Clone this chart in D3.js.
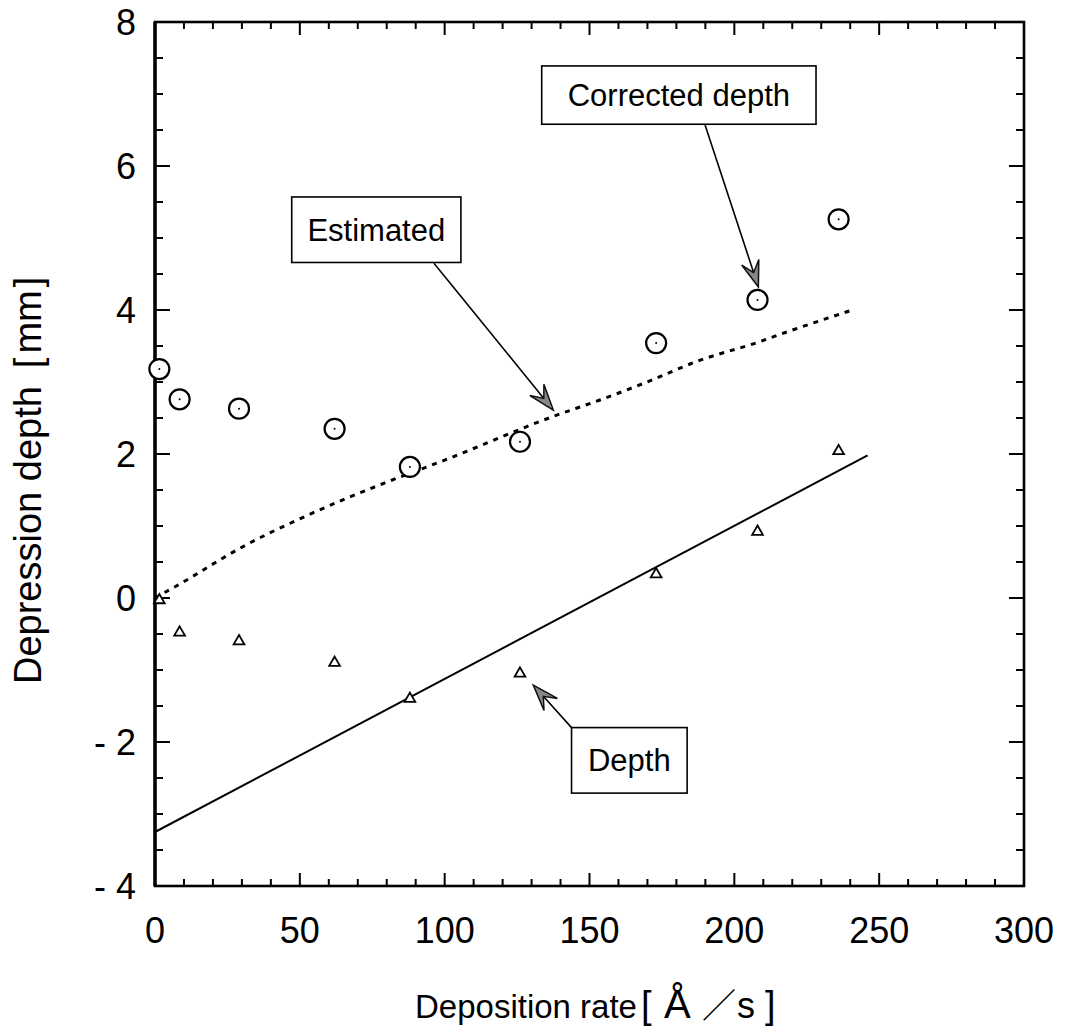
<!DOCTYPE html>
<html><head><meta charset="utf-8">
<script src="https://cdn.jsdelivr.net/npm/d3@7"></script>
<style>body{margin:0;background:#fff}</style>
</head><body>
<svg id="c" width="1066" height="1032"></svg>
<script>
// ---- data ----
const rates = [1.5, 8.5, 29, 62, 88, 126, 173, 208, 236];
const correctedDepth = [3.18, 2.76, 2.63, 2.35, 1.82, 2.17, 3.54, 4.14, 5.26];
const depth = [-0.03, -0.48, -0.60, -0.90, -1.40, -1.05, 0.33, 0.92, 2.04];
const fitX = [0, 246];
const fitY = [-3.25, 1.98];
const estX = [0, 3.5, 8.4, 15.5, 22.4, 29.3, 50, 79.4, 98.4, 138.7, 153.6, 168.6, 188, 208.8, 215.7, 241.5];
const estY = [0, 0.08, 0.19, 0.36, 0.53, 0.69, 1.1, 1.6, 1.89, 2.54, 2.75, 2.98, 3.3, 3.56, 3.66, 4.01];
const xTickLabels = [0, 50, 100, 150, 200, 250, 300];
const yTickLabels = [8, 6, 4, 2, 0, -2, -4];
const annLabels = ["Estimated", "Corrected depth", "Depth"];
const annBoxX = [[47.2, 105.6], [133.5, 228.2], [143.8, 183.7]];
const annBoxY = [[5.57, 4.66], [7.39, 6.58], [-1.80, -2.71]];
const annFrom = [[96.3, 4.65], [189.9, 6.57], [143.8, -1.80]];
const annTo = [[137.5, 2.61], [208.3, 4.32], [130.6, -1.21]];

const svg = d3.select("#c");
const x = d3.scaleLinear([0, 300], [155, 1024]);
const y = d3.scaleLinear([-4, 8], [886, 22]);
const font = "'Liberation Sans', Arial, Helvetica, sans-serif";

// ticks
const xMinor = d3.range(0, 301, 10);
const yMinor = d3.range(-4, 8.01, 0.5);
const isXMaj = v => Math.abs(v % 50) < 1e-6;
const isYMaj = v => Math.abs(v % 2) < 1e-6;
const tk = svg.append("g").attr("stroke", "#000").attr("stroke-width", 2);
xMinor.forEach(v => {
  const L = isXMaj(v) ? 13 : 7;
  tk.append("line").attr("x1", x(v)).attr("x2", x(v)).attr("y1", y(-4)).attr("y2", y(-4) - L);
  tk.append("line").attr("x1", x(v)).attr("x2", x(v)).attr("y1", y(8)).attr("y2", y(8) + L);
});
yMinor.forEach(v => {
  const L = isYMaj(v) ? 15 : 8;
  tk.append("line").attr("y1", y(v)).attr("y2", y(v)).attr("x1", x(0)).attr("x2", x(0) + L);
  tk.append("line").attr("y1", y(v)).attr("y2", y(v)).attr("x1", x(300)).attr("x2", x(300) - L);
});
// frame
svg.append("rect").attr("x", x(0)).attr("y", y(8)).attr("width", x(300) - x(0)).attr("height", y(-4) - y(8))
  .attr("fill", "none").attr("stroke", "#000").attr("stroke-width", 2.6);
svg.append("line").attr("x1", x(0)).attr("x2", x(0)).attr("y1", y(8)).attr("y2", y(-4))
  .attr("stroke", "#000").attr("stroke-width", 3.4);

// tick labels
svg.append("g").selectAll("text").data(xTickLabels).join("text")
  .attr("x", d => x(d)).attr("y", 943).attr("text-anchor", "middle")
  .attr("font-family", font).attr("font-size", 36).text(d => d);
svg.append("g").selectAll("text").data(yTickLabels).join("text")
  .attr("x", 136).attr("y", d => y(d) + 13).attr("text-anchor", "end")
  .attr("font-family", font).attr("font-size", 36).text(d => d < 0 ? "- " + Math.abs(d) : d);

// axis titles
const xt = svg.append("text").attr("y", 1018).attr("font-family", font).attr("font-size", 33);
xt.append("tspan").attr("x", 415).text("Deposition rate");
xt.append("tspan").attr("x", 641).attr("font-size", 38).text("[");
xt.append("tspan").attr("x", 664).attr("font-size", 40).text("Å");
xt.append("tspan").attr("x", 702).attr("font-family", "'Noto Sans CJK JP'").attr("font-size", 34).text("／");
xt.append("tspan").attr("x", 737).attr("font-size", 36).text("s");
xt.append("tspan").attr("x", 765).attr("font-size", 38).text("]");

const yt = svg.append("text").attr("transform", "translate(41,684) rotate(-90)")
  .attr("font-family", font).attr("font-size", 38);
yt.append("tspan").text("Depression depth");
yt.append("tspan").attr("dx", 18).text("[");
yt.append("tspan").attr("dx", 4).text("mm");
yt.append("tspan").attr("dx", 3).text("]");

// lines
svg.append("path").datum(d3.zip(fitX, fitY))
  .attr("d", d3.line().x(d => x(d[0])).y(d => y(d[1])))
  .attr("fill", "none").attr("stroke", "#000").attr("stroke-width", 2);
svg.append("path").datum(d3.zip(estX, estY))
  .attr("d", d3.line().curve(d3.curveMonotoneX).x(d => x(d[0])).y(d => y(d[1])))
  .attr("fill", "none").attr("stroke", "#000").attr("stroke-width", 3).attr("stroke-dasharray", "5 6");

// markers
const pts = d3.zip(rates, correctedDepth);
svg.append("g").selectAll("circle").data(pts).join("circle")
  .attr("cx", d => x(d[0])).attr("cy", d => y(d[1])).attr("r", 10)
  .attr("fill", "#fff").attr("stroke", "#000").attr("stroke-width", 2.2);
svg.append("g").selectAll("circle").data(pts).join("circle")
  .attr("cx", d => x(d[0])).attr("cy", d => y(d[1])).attr("r", 1).attr("fill", "#000");
svg.append("g").selectAll("path").data(d3.zip(rates, depth)).join("path")
  .attr("transform", d => `translate(${x(d[0])},${y(d[1])})`)
  .attr("d", d3.symbol(d3.symbolTriangle, 50))
  .attr("fill", "#fff").attr("stroke", "#000").attr("stroke-width", 1.8);

// annotations
annLabels.forEach((lab, i) => {
  const bx0 = x(annBoxX[i][0]), bx1 = x(annBoxX[i][1]);
  const by0 = y(annBoxY[i][0]), by1 = y(annBoxY[i][1]);
  svg.append("rect").attr("x", bx0).attr("y", by0).attr("width", bx1 - bx0).attr("height", by1 - by0)
    .attr("fill", "#fff").attr("stroke", "#000").attr("stroke-width", 1.6);
  svg.append("text").attr("x", (bx0 + bx1) / 2).attr("y", (by0 + by1) / 2 + 11)
    .attr("text-anchor", "middle").attr("font-family", font).attr("font-size", 31).text(lab);
  const sx = x(annFrom[i][0]), sy = y(annFrom[i][1]);
  const tx = x(annTo[i][0]), ty = y(annTo[i][1]);
  const dx = tx - sx, dy = ty - sy, len = Math.hypot(dx, dy);
  const ux = dx / len, uy = dy / len, nx = -uy, ny = ux;
  const L = 26, W = 9, N = 15;
  svg.append("line").attr("x1", sx).attr("y1", sy).attr("x2", tx - N * ux).attr("y2", ty - N * uy)
    .attr("stroke", "#000").attr("stroke-width", 1.6);
  const head = [[tx, ty], [tx - L * ux + W * nx, ty - L * uy + W * ny], [tx - N * ux, ty - N * uy], [tx - L * ux - W * nx, ty - L * uy - W * ny]];
  svg.append("path").attr("d", "M" + head.map(p => p.join(",")).join("L") + "Z")
    .attr("fill", "#888").attr("stroke", "#111").attr("stroke-width", 1.5).attr("stroke-linejoin", "miter");
});
</script>
</body></html>
